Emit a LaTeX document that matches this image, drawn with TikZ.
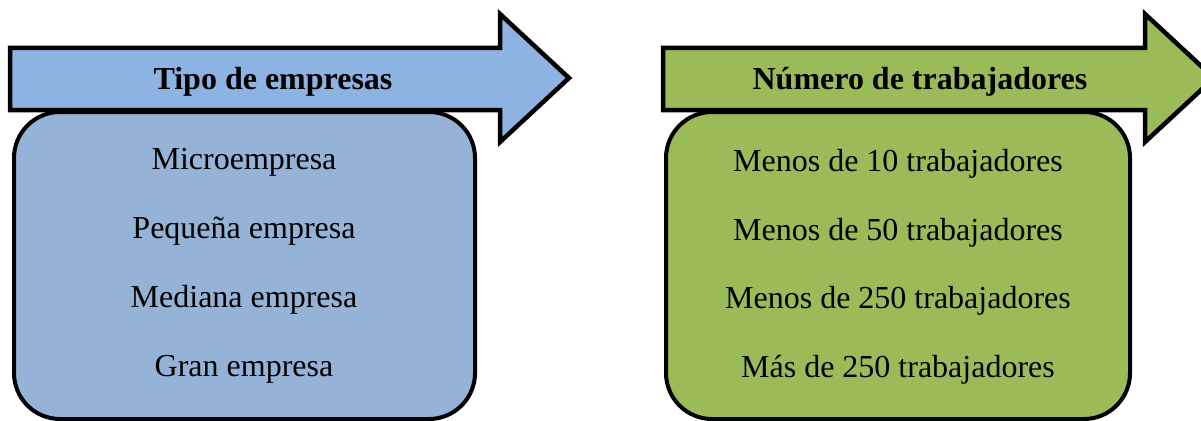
\documentclass[tikz,border=0pt]{standalone}
\usepackage{fontspec}
\setmainfont{Liberation Serif}
\definecolor{arrowblue}{HTML}{8DB3E2}
\definecolor{boxblue}{HTML}{95B3D7}
\definecolor{leafgreen}{HTML}{9BBB59}
\begin{document}
\begin{tikzpicture}[x=1pt,y=-1pt,
  outline/.style={draw=black,line width=4.5pt,line join=miter},
  panel/.style={outline,line width=4pt,rounded corners=46pt},
  heading/.style={font=\fontsize{32}{38}\selectfont\bfseries,inner sep=0pt},
  entry/.style={font=\fontsize{32}{38}\selectfont,inner sep=0pt}]
\useasboundingbox (0,0) rectangle (1201,420);
\clip (0,0) rectangle (1201,420);

% left panel: company types
\path[panel,fill=boxblue] (14,112) rectangle (475,419);
\path[outline,fill=arrowblue] (10,48) -- (500,48) -- (500,14) -- (569,78)
  -- (500,142) -- (500,110) -- (10,110) -- cycle;
\node[heading] (tipo) at (273,82) {Tipo de empresas};
\node[entry] (micro) at (244,162) {Microempresa};
\node[entry] (peq) at (244,231) {Pequeña empresa};
\node[entry] (med) at (244,300) {Mediana empresa};
\node[entry] (gran) at (244,369) {Gran empresa};

% right panel: number of workers
\path[panel,fill=leafgreen] (666,112) rectangle (1130,419);
\path[outline,fill=leafgreen] (663,48) -- (1145,48) -- (1145,14) -- (1214,78)
  -- (1145,142) -- (1145,110) -- (663,110) -- cycle;
\node[heading] (num) at (920,82) {Número de trabajadores};
\node[entry] (m10) at (898,164) {Menos de 10 trabajadores};
\node[entry] (m50) at (898,233) {Menos de 50 trabajadores};
\node[entry] (m250) at (898,301) {Menos de 250 trabajadores};
\node[entry] (mas250) at (898,370) {Más de 250 trabajadores};
\end{tikzpicture}
\end{document}
